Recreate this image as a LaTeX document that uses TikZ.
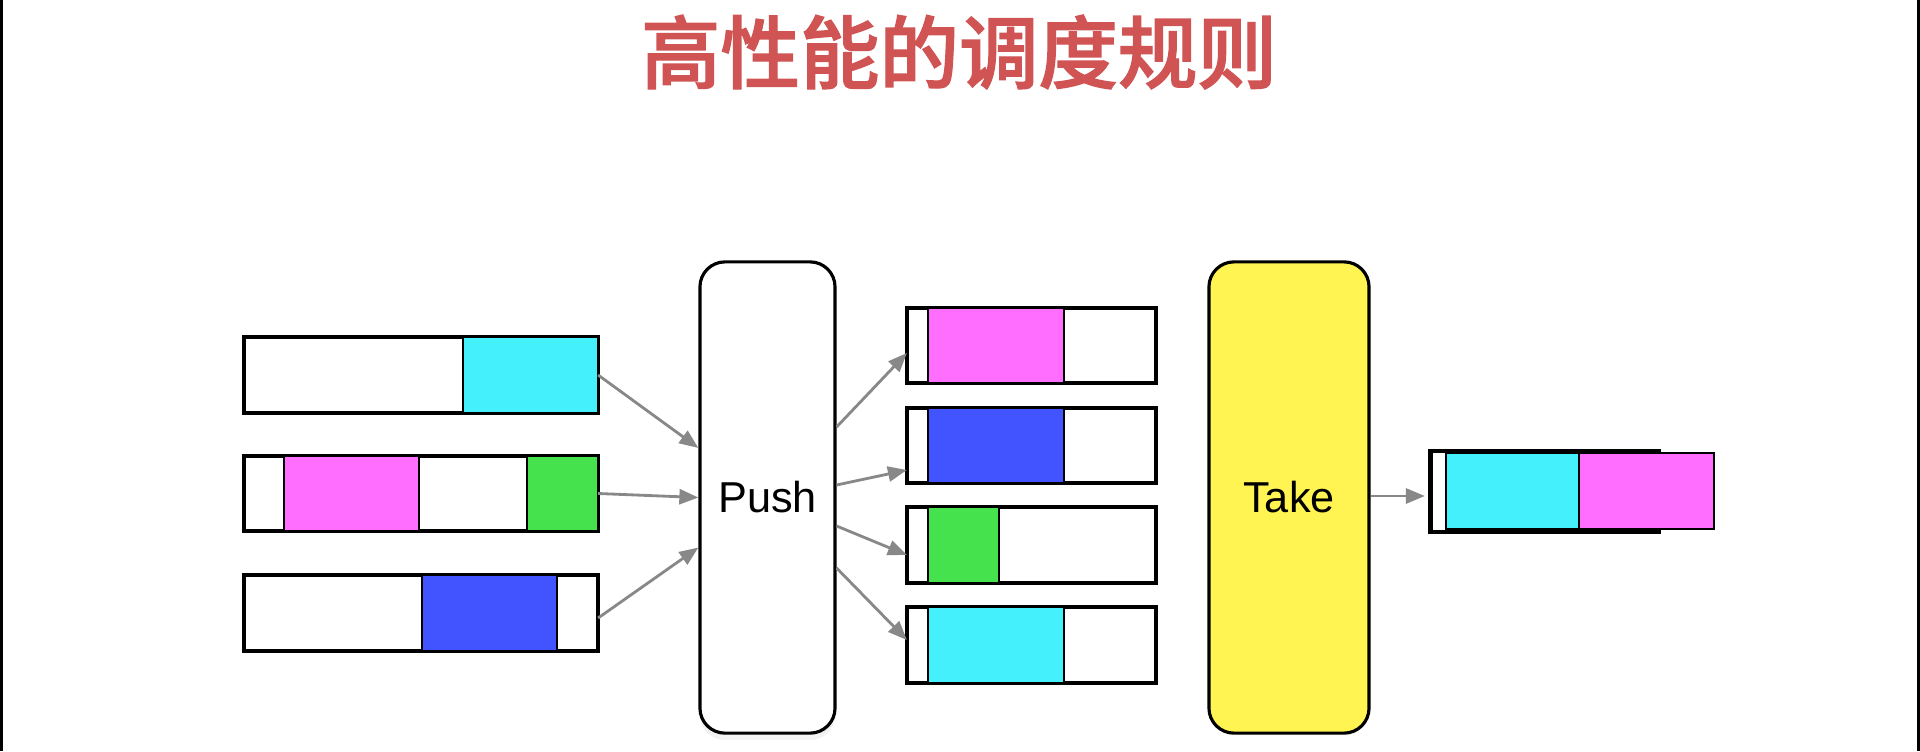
\documentclass[tikz,border=0pt]{standalone}
\usepackage{fontspec}
\setmainfont{Liberation Sans}
\newfontfamily\cjk[FakeBold=1.6]{Noto Sans CJK SC Medium}
\usepackage{tikz}
\usetikzlibrary{arrows.meta,positioning,shadows}

\definecolor{qcyan}{RGB}{69,240,253}
\definecolor{qpink}{RGB}{255,110,255}
\definecolor{qgreen}{RGB}{69,226,77}
\definecolor{qblue}{RGB}{66,84,255}
\definecolor{qyellow}{RGB}{255,244,82}
\definecolor{titlered}{RGB}{208,84,84}
\definecolor{arrowgray}{RGB}{136,136,136}

\begin{document}
\begin{tikzpicture}[
    x=0.01cm, y=-0.01cm,
    queue/.style={rectangle, draw, line width=1pt, fill=white, inner sep=0pt, outer sep=0pt},
    cell/.style={draw, line width=0.8pt},
    stage/.style={rectangle, rounded corners=0.25cm, draw, line width=0.9pt, inner sep=0pt,
        minimum height=4.71cm, font=\fontsize{12.3}{14}\selectfont},
    arrow/.style={line width=0.8pt, arrowgray, -{Triangle[length=0.19cm,width=0.15cm]}}
]
\useasboundingbox (0,0) rectangle (1920,751);

% Frame edges
\draw[line width=1.2pt] (1,0) -- (1,751);
\draw[line width=1.2pt] (1919,0) -- (1919,751);

% Title
\node[font=\cjk\fontsize{22.6}{26}\selectfont, text=titlered, inner sep=0pt] (title) at (959,52) {高性能的调度规则};

% Left queues
\node[queue, minimum width=3.54cm, minimum height=0.76cm] (q1) at (421,375) {};
\node[queue, minimum width=3.54cm, minimum height=0.75cm] (q2) at (421,493.5) {};
\node[queue, minimum width=3.54cm, minimum height=0.76cm] (q3) at (421,613) {};
\draw[cell, fill=qcyan] (463,337) rectangle (598,413);
\draw[cell, fill=qpink] (284,456) rectangle (419,531);
\draw[cell, fill=qgreen] (527,456) rectangle (598,531);
\draw[cell, fill=qblue] (422,575) rectangle (557,651);

% Stages
\node[stage, fill=white, minimum width=1.35cm, drop shadow={shadow xshift=0pt, shadow yshift=-2pt, opacity=0.1}] (push) at (767.5,497.5) {Push};
\node[stage, fill=qyellow, minimum width=1.6cm] (take) at (1289,497.5) {Take};

% Right queues
\node[queue, minimum width=2.49cm, minimum height=0.75cm] (ra) at (1031.5,345.5) {};
\node[queue, minimum width=2.49cm, minimum height=0.75cm] (rb) at (1031.5,445.5) {};
\node[queue, minimum width=2.49cm, minimum height=0.76cm] (rc) at (1031.5,545) {};
\node[queue, minimum width=2.49cm, minimum height=0.76cm] (rd) at (1031.5,645) {};
\draw[cell, fill=qpink] (928,308) rectangle (1064,383);
\draw[cell, fill=qblue] (928,408) rectangle (1064,483);
\draw[cell, fill=qgreen] (928,507) rectangle (999,583);
\draw[cell, fill=qcyan] (928,607) rectangle (1064,683);

% Output
\node[queue, line width=1.4pt, minimum width=2.27cm, minimum height=0.81cm] (out) at (1544.5,491.5) {};
\draw[cell, fill=qcyan] (1446,453) rectangle (1579,529);
\draw[cell, fill=qpink] (1579,453) rectangle (1714,529);

% Arrows
\draw[arrow] (q1.east) -- ([yshift=0.495cm]push.west);
\draw[arrow] (q2.east) -- (push.west);
\draw[arrow] ([yshift=-0.05cm]q3.east) -- ([yshift=-0.5cm]push.west);
\draw[arrow] ([yshift=0.705cm]push.east) -- ([yshift=-0.075cm]ra.west);
\draw[arrow] ([yshift=0.125cm]push.east) -- ([yshift=-0.245cm]rb.west);
\draw[arrow] ([yshift=-0.285cm]push.east) -- ([yshift=-0.1cm]rc.west);
\draw[arrow] ([yshift=-0.705cm]push.east) -- ([yshift=0.05cm]rd.west);
\draw[arrow, shorten >=0.06cm] ([yshift=0.015cm]take.east) -- ([yshift=0.015cm]take.east -| out.west);

\end{tikzpicture}
\end{document}
